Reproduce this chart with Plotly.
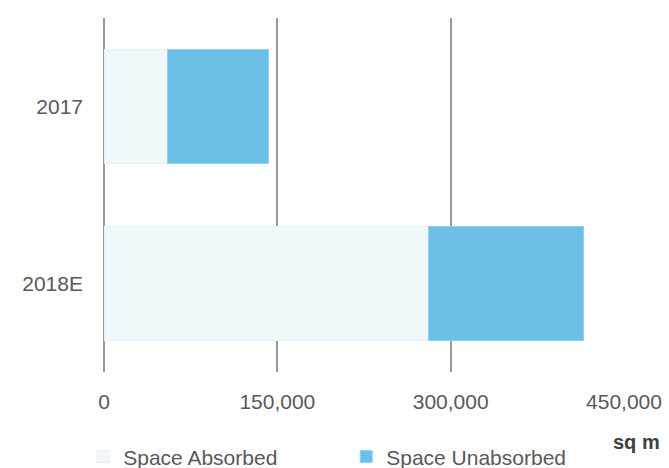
import plotly.graph_objects as go

years = ["2017", "2018E"]
absorbed = [55000, 281000]
unabsorbed = [87000, 134000]
tick_vals = [0, 150000, 300000, 450000]
tick_text = ["0", "150,000", "300,000", "450,000"]

font_family = "Liberation Sans, Arial, sans-serif"
text_color = "#595959"

fig = go.Figure()
fig.add_trace(go.Bar(
    y=years, x=absorbed, name="Space Absorbed", orientation="h",
    marker=dict(color="#F0F8FC", line=dict(color="#E4F2FA", width=1)),
    width=0.645,
))
fig.add_trace(go.Bar(
    y=years, x=unabsorbed, name="Space Unabsorbed", orientation="h",
    marker=dict(color="#6CBFE6", line=dict(color="#8FD2F2", width=1)),
    width=0.645,
))

fig.update_layout(
    width=669, height=468,
    barmode="stack",
    plot_bgcolor="white", paper_bgcolor="white",
    margin=dict(l=104, r=45, t=18, b=96, autoexpand=False),
    font=dict(family=font_family, size=21, color=text_color),
    xaxis=dict(
        range=[0, 450000], tickvals=tick_vals, ticktext=tick_text,
        showgrid=True, gridcolor="#999999", gridwidth=2,
        zeroline=True, zerolinecolor="#999999", zerolinewidth=2,
        showline=False, ticks="", ticklabelstandoff=15,
    ),
    yaxis=dict(
        autorange="reversed", showgrid=False, zeroline=False,
        showline=False, ticks="", ticklabelstandoff=20,
    ),
    legend=dict(
        orientation="h", traceorder="normal",
        x=-0.04, xanchor="left", y=-0.24, yanchor="middle",
        entrywidth=218, entrywidthmode="pixels", itemwidth=30,
        font=dict(size=21, color=text_color),
    ),
    bargap=0.355,
    annotations=[dict(
        text="<b>sq m</b>", xref="paper", yref="paper", x=0.975, y=-0.197,
        xanchor="left", yanchor="middle", showarrow=False,
        font=dict(size=20, color="#404040"),
    )],
)

fig.write_html("out.html")
